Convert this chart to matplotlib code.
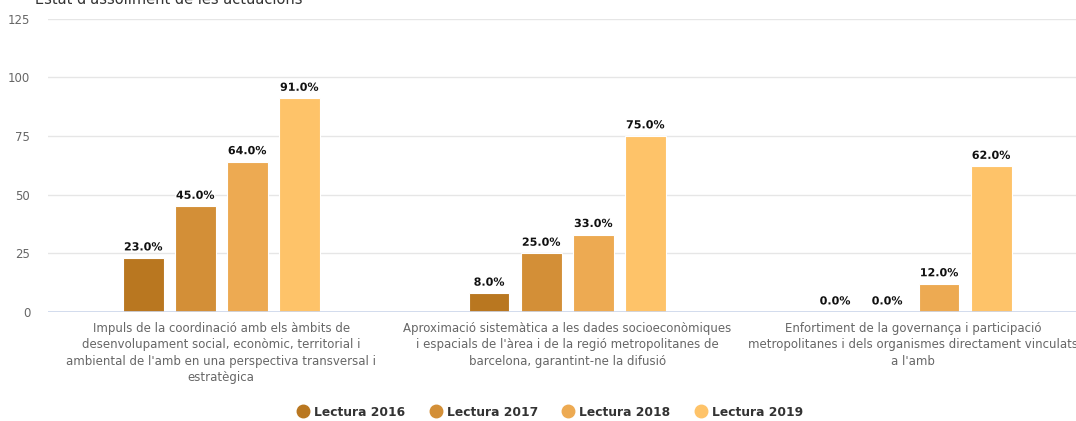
import numpy as np
import matplotlib
matplotlib.use("Agg")
import matplotlib.pyplot as plt
import matplotlib.patheffects as pe
from matplotlib.lines import Line2D

categories = [
    "Impuls de la coordinació amb els àmbits de\ndesenvolupament social, econòmic, territorial i\nambiental de l'amb en una perspectiva transversal i\nestratègica",
    "Aproximació sistemàtica a les dades socioeconòmiques\ni espacials de l'àrea i de la regió metropolitanes de\nbarcelona, garantint-ne la difusió",
    "Enfortiment de la governança i participació\nmetropolitanes i dels organismes directament vinculats\na l'amb",
]
series_names = ["Lectura 2016", "Lectura 2017", "Lectura 2018", "Lectura 2019"]
v2016 = [23.0, 8.0, 0.0]
v2017 = [45.0, 25.0, 0.0]
v2018 = [64.0, 33.0, 12.0]
v2019 = [91.0, 75.0, 62.0]
yticks = [0, 25, 50, 75, 100, 125]
colors = ["#b97720", "#d38f37", "#edaa52", "#fec369"]

W, H = 1076, 421
fig = plt.figure(figsize=(W / 100, H / 100), dpi=100)
# plot area runs off the right edge, as in the source screenshot
x0, x1 = 48.3, 1086
y0, y1 = 312, 18.5
ax = fig.add_axes([x0 / W, 1 - y0 / H, (x1 - x0) / W, (y0 - y1) / H])

x = np.arange(len(categories))
bw = 0.118
step = 0.1505
for i, (vals, c, name) in enumerate(zip([v2016, v2017, v2018, v2019], colors, series_names)):
    xs = x + (i - 1.5) * step
    ax.bar(xs, vals, width=bw, color=c, edgecolor="white", linewidth=0.8, zorder=3)
    for xx, v in zip(xs, vals):
        ax.annotate(f"{v:.1f}%", (xx, v), xytext=(0, 4), textcoords="offset points",
                    ha="center", va="bottom", fontsize=8, fontweight="bold", color="#111111",
                    path_effects=[pe.withStroke(linewidth=2, foreground="white")], zorder=5)

ax.set_xlim(-0.5, len(categories) - 0.5)
ax.set_ylim(0, 125)
ax.set_yticks(yticks)
ax.set_yticklabels([str(t) for t in yticks])
ax.tick_params(axis="y", length=0, pad=13, labelsize=8.5, labelcolor="#666666")
ax.set_xticks(x)
ax.set_xticklabels(categories, fontsize=8.5, color="#666666", linespacing=1.35)
ax.tick_params(axis="x", length=0, pad=7)
ax.grid(axis="y", color="#e6e6e6", lw=1, zorder=0)
ax.axhline(0, color="#ccd6eb", lw=1.2, zorder=4)
for s in ax.spines.values():
    s.set_visible(False)

# title, cut off by the top of the screenshot
fig.text(35 / W, 1 + 1 / H, "Estat d'assoliment de les actuacions", fontsize=10.5,
         color="#333333", ha="left", va="center")

handles = [Line2D([], [], marker="o", ls="", ms=9, color=c) for c in colors]
fig.legend(handles, series_names, loc="center", bbox_to_anchor=(550 / W, 1 - 412 / H),
           ncol=4, frameon=False, prop={"size": 8.8, "weight": "bold"}, labelcolor="#333333",
           handletextpad=0.4, columnspacing=2.0, handlelength=1.0)

fig.savefig("out.png", dpi=100)
